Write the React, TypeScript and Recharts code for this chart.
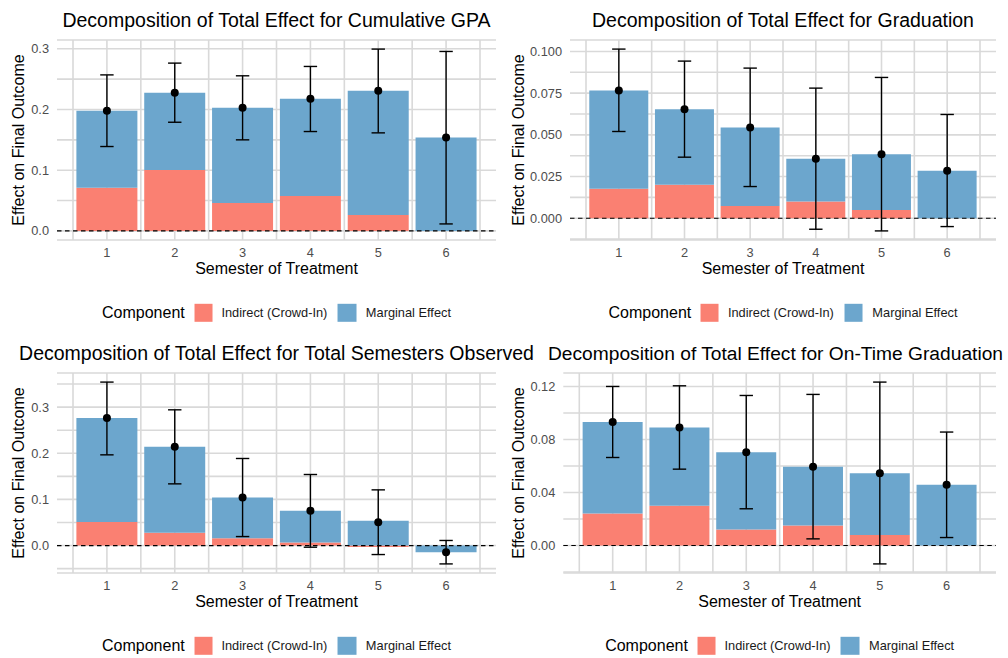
import React from 'react';
import {
  ComposedChart,
  Bar,
  Line,
  XAxis,
  YAxis,
  CartesianGrid,
  ReferenceLine,
  ErrorBar,
} from 'recharts';

// ---------- data ----------
const semesters = ['1', '2', '3', '4', '5', '6'];
const legendTitle = 'Component';
const indirectLabel = 'Indirect (Crowd-In)';
const marginalLabel = 'Marginal Effect';
const xTitle = 'Semester of Treatment';
const yTitle = 'Effect on Final Outcome';

// Cumulative GPA
const gpaIndirect = [0.071, 0.1005, 0.046, 0.0577, 0.0264, 0.0];
const gpaMarginal = [0.127, 0.127, 0.157, 0.1599, 0.2044, 0.1538];
const gpaLow = [0.139, 0.179, 0.15, 0.1637, 0.1615, 0.0115];
const gpaHigh = [0.257, 0.2764, 0.2555, 0.2709, 0.2995, 0.2956];
const gpaMajorTicks = [0, 0.1, 0.2, 0.3];
const gpaMinorTicks = [0.05, 0.15, 0.25];

// Graduation
const gradIndirect = [0.0176, 0.02, 0.0074, 0.01, 0.005, 0.0];
const gradMarginal = [0.059, 0.0454, 0.047, 0.0256, 0.0334, 0.0284];
const gradLow = [0.052, 0.0366, 0.019, -0.0066, -0.0076, -0.005];
const gradHigh = [0.1014, 0.0942, 0.09, 0.078, 0.0844, 0.0622];
const gradMajorTicks = [0, 0.025, 0.05, 0.075, 0.1];
const gradMinorTicks = [-0.0125, 0.0125, 0.0375, 0.0625, 0.0875];

// Total Semesters Observed
const semIndirect = [0.0513, 0.0275, 0.016, 0.0065, -0.003, 0.0];
const semMarginal = [0.2249, 0.1865, 0.088, 0.0687, 0.0535, -0.0145];
const semLow = [0.1966, 0.1337, 0.0195, -0.0036, -0.0195, -0.0398];
const semHigh = [0.3543, 0.2942, 0.1887, 0.154, 0.1207, 0.011];
const semMajorTicks = [0, 0.1, 0.2, 0.3];
const semMinorTicks = [-0.05, 0.05, 0.15, 0.25, 0.35];

// On-Time Graduation
const otIndirect = [0.0241, 0.0299, 0.0121, 0.0151, 0.008, 0.0];
const otMarginal = [0.069, 0.0591, 0.0583, 0.0443, 0.0466, 0.0458];
const otLow = [0.0664, 0.0576, 0.0277, 0.005, -0.0139, 0.006];
const otHigh = [0.12, 0.1205, 0.1132, 0.114, 0.1233, 0.0856];
const otMajorTicks = [0, 0.04, 0.08, 0.12];
const otMinorTicks = [-0.02, 0.02, 0.06, 0.1];

// ---------- styling ----------
const FONT = '"Liberation Sans", Arial, Helvetica, sans-serif';
const RED = '#FA8072';
const BLUE = '#6CA6CD';
const GRID = '#D9D9D9';
const TICK = '#4D4D4D';
const Y_W = 50;
const X_H = 30;
const PAD = 16;

function buildRows(ind: number[], mar: number[], low: number[], high: number[]) {
  return semesters.map((s, i) => {
    const total = ind[i] + mar[i];
    return {
      sem: s,
      indirect: ind[i],
      marginal: mar[i],
      total,
      err: [total - low[i], high[i] - total],
    };
  });
}

function niceDomain(ind: number[], mar: number[], low: number[], high: number[]): [number, number] {
  const vals: number[] = [0];
  semesters.forEach((_, i) => {
    vals.push(low[i], high[i]);
    if (ind[i] < 0) vals.push(ind[i]);
    if (mar[i] < 0) vals.push(Math.min(0, ind[i]) + mar[i]);
    vals.push(Math.max(0, ind[i]) + Math.max(0, mar[i]));
  });
  const mn = Math.min(...vals);
  const mx = Math.max(...vals);
  const r = mx - mn;
  return [mn - 0.05 * r, mx + 0.05 * r];
}

type PanelDef = {
  title: string;
  ind: number[];
  mar: number[];
  low: number[];
  high: number[];
  majors: number[];
  minors: number[];
  digits: number;
  box: { left: number; top: number; height: number };
  plot: { left: number; right: number; top: number; bottom: number };
  yTitleX: number;
  titleFs: number;
  titleRight?: number;
};

const panels: PanelDef[] = [
  {
    title: 'Decomposition of Total Effect for Cumulative GPA',
    ind: gpaIndirect, mar: gpaMarginal, low: gpaLow, high: gpaHigh,
    majors: gpaMajorTicks, minors: gpaMinorTicks, digits: 1,
    box: { left: 0, top: 0, height: 330 },
    plot: { left: 57, right: 496, top: 40, bottom: 240 },
    yTitleX: 18.5,
    titleFs: 19.5,
  },
  {
    title: 'Decomposition of Total Effect for Graduation',
    ind: gradIndirect, mar: gradMarginal, low: gradLow, high: gradHigh,
    majors: gradMajorTicks, minors: gradMinorTicks, digits: 3,
    box: { left: 504, top: 0, height: 330 },
    plot: { left: 570, right: 996, top: 40, bottom: 240 },
    yTitleX: 518.5,
    titleFs: 19.5,
  },
  {
    title: 'Decomposition of Total Effect for Total Semesters Observed',
    ind: semIndirect, mar: semMarginal, low: semLow, high: semHigh,
    majors: semMajorTicks, minors: semMinorTicks, digits: 1,
    box: { left: 0, top: 330, height: 328 },
    plot: { left: 57, right: 496, top: 373, bottom: 573 },
    yTitleX: 18.5,
    titleFs: 19.5,
  },
  {
    title: 'Decomposition of Total Effect for On-Time Graduation',
    ind: otIndirect, mar: otMarginal, low: otLow, high: otHigh,
    majors: otMajorTicks, minors: otMinorTicks, digits: 2,
    box: { left: 504, top: 330, height: 328 },
    plot: { left: 563.3, right: 996, top: 373, bottom: 573 },
    yTitleX: 518.5,
    titleFs: 19.2,
    titleRight: 5,
  },
];

// vertical grid: category centres and category boundaries, from the plot area layout
const vGridGen = (props: any) => {
  const { offset } = props || {};
  const n = semesters.length;
  const band = (offset.width - 2 * PAD) / n;
  const res: number[] = [];
  for (let k = 0; k <= 2 * n; k++) res.push(offset.left + PAD + (band * k) / 2);
  return res;
};

function Chart({ p }: { p: PanelDef }) {
  const rows = buildRows(p.ind, p.mar, p.low, p.high);
  const domain = niceDomain(p.ind, p.mar, p.low, p.high);
  const ticks = [...p.majors, ...p.minors].sort((a, b) => a - b);
  const margin = {
    left: p.plot.left - p.box.left - Y_W,
    right: p.box.left + 504 - p.plot.right,
    top: p.plot.top - p.box.top,
    bottom: p.box.top + p.box.height - p.plot.bottom - X_H,
  };
  const fmt = (v: number) =>
    p.majors.some((m) => Math.abs(m - v) < 1e-9) ? v.toFixed(p.digits) : '';
  return (
    <div style={{ position: 'absolute', left: p.box.left, top: p.box.top }}>
      <ComposedChart
        width={504}
        height={p.box.height}
        data={rows}
        margin={margin}
        stackOffset="sign"
        barCategoryGap="5%"
      >
        <CartesianGrid
          stroke={GRID}
          strokeWidth={1.6}
          verticalCoordinatesGenerator={vGridGen}
        />
        <XAxis
          dataKey="sem"
          type="category"
          height={X_H}
          axisLine={false}
          tickLine={false}
          tickSize={0}
          tickMargin={7.5}
          interval={0}
          padding={{ left: PAD, right: PAD }}
          tick={{ fill: TICK, fontSize: 12.8, fontFamily: FONT }}
        />
        <YAxis
          type="number"
          width={Y_W}
          domain={domain}
          allowDataOverflow
          ticks={ticks}
          interval={0}
          axisLine={false}
          tickLine={false}
          tickSize={0}
          tickMargin={8}
          tickFormatter={fmt}
          tick={{ fill: TICK, fontSize: 12.8, fontFamily: FONT }}
        />
        <Bar dataKey="indirect" stackId="s" fill={RED} isAnimationActive={false} />
        <Bar dataKey="marginal" stackId="s" fill={BLUE} isAnimationActive={false} />
        <ReferenceLine y={0} stroke="#000" strokeWidth={1.2} strokeDasharray="4.5 3.5" />
        <Line
          dataKey="total"
          stroke="none"
          isAnimationActive={false}
          dot={{ r: 4, fill: '#000', stroke: 'none' }}
          activeDot={false}
        >
          <ErrorBar dataKey="err" width={6.7} stroke="#000" strokeWidth={1.4} direction="y" />
        </Line>
      </ComposedChart>
    </div>
  );
}

function Texts({ p }: { p: PanelDef }) {
  const cx = (p.plot.left + p.plot.right) / 2;
  const cy = (p.plot.top + p.plot.bottom) / 2;
  const titleFs = p.titleFs;
  const axFs = 16;
  const base = (b: number, fs: number) => b - 0.8465 * fs;
  const titlePos: React.CSSProperties =
    p.titleRight !== undefined
      ? { right: p.titleRight }
      : { left: cx, transform: 'translateX(-50%)' };
  return (
    <>
      <div
        style={{
          position: 'absolute',
          ...titlePos,
          top: base(p.plot.top - 12.5, titleFs),
          fontSize: titleFs,
          lineHeight: 1,
          whiteSpace: 'nowrap',
          color: '#000',
        }}
      >
        {p.title}
      </div>
      <div
        style={{
          position: 'absolute',
          left: cx,
          top: base(p.plot.bottom + 35, axFs),
          transform: 'translateX(-50%)',
          fontSize: axFs,
          lineHeight: 1,
          whiteSpace: 'nowrap',
          color: '#000',
        }}
      >
        {xTitle}
      </div>
      <div
        style={{
          position: 'absolute',
          left: p.yTitleX,
          top: cy,
          transform: 'translate(-50%, -50%) rotate(-90deg)',
          fontSize: axFs,
          lineHeight: 1,
          whiteSpace: 'nowrap',
          color: '#000',
        }}
      >
        {yTitle}
      </div>
      <div
        style={{
          position: 'absolute',
          left: cx,
          top: p.plot.bottom + 73,
          transform: 'translate(-50%, -50%)',
          display: 'flex',
          alignItems: 'center',
          whiteSpace: 'nowrap',
          lineHeight: 1,
        }}
      >
        <span style={{ fontSize: 16, color: '#000', marginRight: 9.3 }}>{legendTitle}</span>
        <span style={{ width: 18.4, height: 18.4, background: RED, marginRight: 9 }} />
        <span style={{ fontSize: 12.8, color: '#1a1a1a', marginRight: 10.4 }}>{indirectLabel}</span>
        <span style={{ width: 18.4, height: 18.4, background: BLUE, marginRight: 9.7 }} />
        <span style={{ fontSize: 12.8, color: '#1a1a1a' }}>{marginalLabel}</span>
      </div>
    </>
  );
}

export default function App() {
  return (
    <div
      style={{
        position: 'absolute',
        left: 0,
        top: 0,
        width: 1008,
        height: 658,
        overflow: 'hidden',
        background: '#fff',
        fontFamily: FONT,
      }}
    >
      {panels.map((p, i) => (
        <Chart key={'c' + i} p={p} />
      ))}
      {panels.map((p, i) => (
        <Texts key={'t' + i} p={p} />
      ))}
    </div>
  );
}
